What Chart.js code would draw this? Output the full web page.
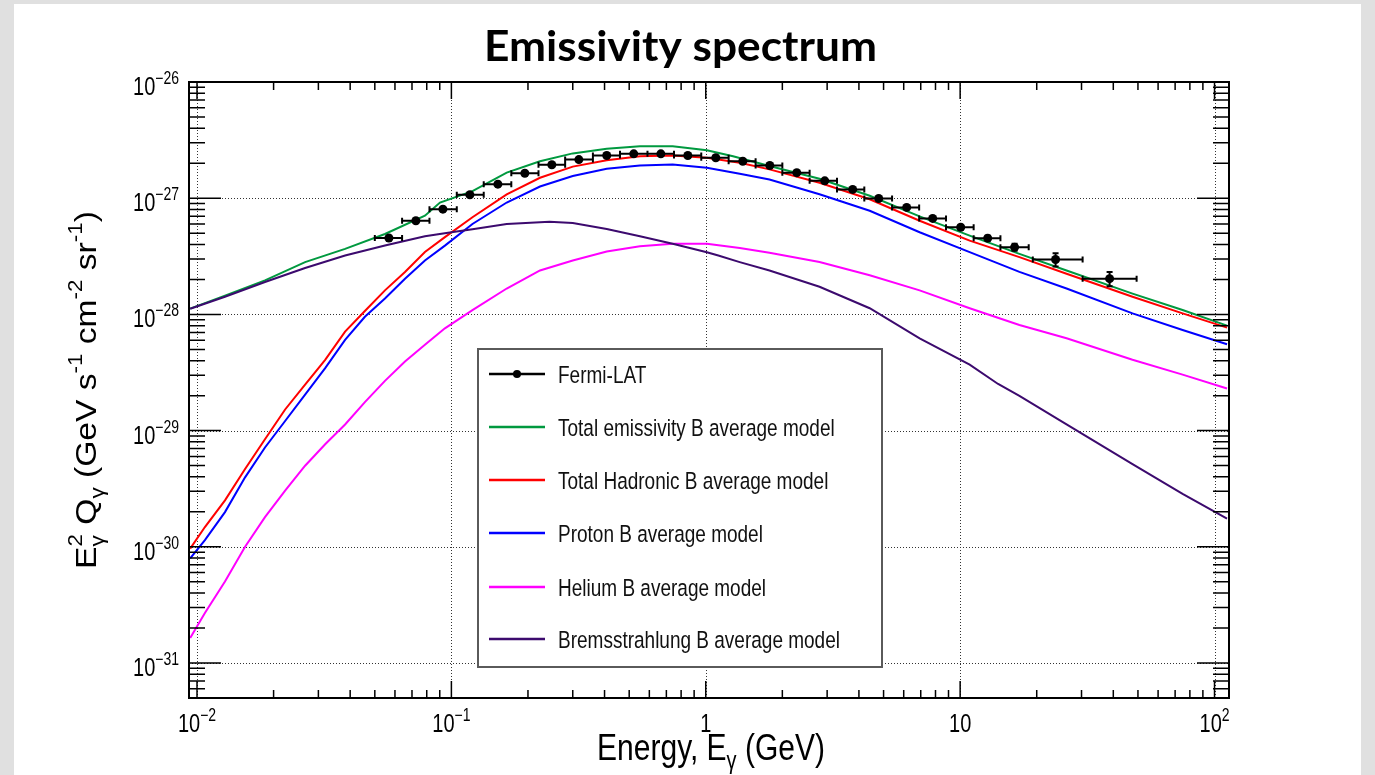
<!DOCTYPE html>
<html>
<head>
<meta charset="utf-8">
<script src="https://cdn.jsdelivr.net/npm/chart.js@4.4.0/dist/chart.umd.min.js"></script>
<style>
  html, body { margin: 0; padding: 0; background: #e0e0e0; }
  canvas { display: block; }
</style>
</head>
<body>
<canvas id="c" width="1375" height="775"></canvas>
<script>
/* ---- data (E in GeV, E^2 Q in GeV s^-1 cm^-2 sr^-1) ---- */
const TITLE = "Emissivity spectrum";
const X_TITLE = "Energy, E";
const X_MIN = 0.0093, X_MAX = 114;
const Y_MIN = 5.4e-32, Y_MAX = 1e-26;

const X_TICKS = [0.01, 0.1, 1, 10, 100];
const X_TICK_LABELS = [["10", "\u22122"], ["10", "\u22121"], ["1", ""], ["10", ""], ["10", "2"]];
const Y_TICKS = [1e-26, 1e-27, 1e-28, 1e-29, 1e-30, 1e-31];
const Y_TICK_LABELS = [["10", "\u221226"], ["10", "\u221227"], ["10", "\u221228"], ["10", "\u221229"], ["10", "\u221230"], ["10", "\u221231"]];

const SERIES_LABELS = [
  "Fermi-LAT",
  "Total emissivity B average model",
  "Total Hadronic B average model",
  "Proton B average model",
  "Helium B average model",
  "Bremsstrahlung B average model"
];

// Fermi-LAT points with x bins and relative y errors
const FERMI_E   = [0.0568, 0.0725, 0.0926, 0.1182, 0.1523, 0.1944, 0.2482, 0.317, 0.408, 0.521, 0.666, 0.850, 1.095, 1.398, 1.785, 2.279, 2.936, 3.780, 4.784, 6.163, 7.799, 10.05, 12.83, 16.37, 23.72, 38.68];
const FERMI_ELO = [0.050, 0.064, 0.082, 0.105, 0.134, 0.172, 0.22, 0.28, 0.36, 0.46, 0.59, 0.75, 0.96, 1.23, 1.57, 2.0, 2.56, 3.28, 4.2, 5.4, 6.9, 8.8, 11.3, 14.4, 19.3, 30.3];
const FERMI_EHI = [0.064, 0.082, 0.105, 0.134, 0.172, 0.22, 0.28, 0.36, 0.46, 0.59, 0.75, 0.96, 1.23, 1.57, 2.0, 2.56, 3.28, 4.2, 5.4, 6.9, 8.8, 11.3, 14.4, 18.6, 30.3, 49.4];
const FERMI_V   = [4.55e-28, 6.40e-28, 8.05e-28, 1.07e-27, 1.32e-27, 1.64e-27, 1.94e-27, 2.15e-27, 2.33e-27, 2.41e-27, 2.41e-27, 2.33e-27, 2.23e-27, 2.08e-27, 1.91e-27, 1.66e-27, 1.41e-27, 1.19e-27, 9.94e-28, 8.33e-28, 6.70e-28, 5.62e-28, 4.53e-28, 3.79e-28, 2.97e-28, 2.03e-28];
const FERMI_ERR = [0.03, 0.03, 0.03, 0.03, 0.03, 0.03, 0.03, 0.03, 0.03, 0.03, 0.03, 0.03, 0.03, 0.03, 0.03, 0.03, 0.03, 0.03, 0.03, 0.03, 0.03, 0.04, 0.05, 0.07, 0.13, 0.14];

// total emissivity (green)
const TOTAL_E = [0.0094, 0.01288, 0.0185, 0.0266, 0.0382, 0.0548, 0.0787, 0.0902, 0.121, 0.165, 0.223, 0.300, 0.408, 0.551, 0.741, 1.01, 1.28, 1.78, 2.80, 4.41, 6.93, 10.9, 17.1, 26.2, 47.6, 74.9, 112];
const TOTAL_V = [1.12e-28, 1.45e-28, 1.96e-28, 2.82e-28, 3.66e-28, 4.92e-28, 7.06e-28, 9.18e-28, 1.15e-27, 1.66e-27, 2.08e-27, 2.43e-27, 2.66e-27, 2.80e-27, 2.80e-27, 2.59e-27, 2.30e-27, 1.89e-27, 1.47e-27, 1.05e-27, 6.98e-28, 4.77e-28, 3.32e-28, 2.39e-28, 1.51e-28, 1.09e-28, 8.0e-29];

// hadronic, proton, helium share one energy grid
const HAD_E = [0.0094, 0.01074, 0.01288, 0.01545, 0.0185, 0.0222, 0.0266, 0.0319, 0.0382, 0.0457, 0.0548, 0.0657, 0.0787, 0.0943, 0.121, 0.165, 0.223, 0.300, 0.408, 0.551, 0.741, 1.01, 1.36, 1.78, 2.80, 4.41, 6.93, 10.9, 17.1, 26.2, 47.6, 74.9, 112];
const HADRONIC_V = [9.66e-31, 1.48e-30, 2.51e-30, 4.67e-30, 8.43e-30, 1.52e-29, 2.49e-29, 4.07e-29, 7.11e-29, 1.07e-28, 1.61e-28, 2.32e-28, 3.44e-28, 4.62e-28, 6.86e-28, 1.08e-27, 1.50e-27, 1.87e-27, 2.12e-27, 2.30e-27, 2.33e-27, 2.23e-27, 2.02e-27, 1.77e-27, 1.36e-27, 9.80e-28, 6.40e-28, 4.31e-28, 3.11e-28, 2.24e-28, 1.42e-28, 1.02e-28, 7.7e-29];
const PROTON_V   = [7.94e-31, 1.14e-30, 1.99e-30, 3.96e-30, 7.16e-30, 1.21e-29, 2.04e-29, 3.45e-29, 6.03e-29, 9.55e-29, 1.37e-28, 2.03e-28, 2.91e-28, 3.91e-28, 6.0e-28, 9.18e-28, 1.26e-27, 1.55e-27, 1.79e-27, 1.91e-27, 1.95e-27, 1.83e-27, 1.62e-27, 1.45e-27, 1.08e-27, 7.79e-28, 5.09e-28, 3.44e-28, 2.32e-28, 1.67e-28, 1.02e-28, 7.35e-29, 5.54e-29];
const HELIUM_V   = [1.64e-31, 2.69e-31, 5.02e-31, 1.0e-30, 1.80e-30, 3.05e-30, 4.99e-30, 7.63e-30, 1.13e-29, 1.76e-29, 2.68e-29, 3.94e-29, 5.47e-29, 7.59e-29, 1.09e-28, 1.67e-28, 2.39e-28, 2.91e-28, 3.48e-28, 3.86e-28, 4.05e-28, 4.05e-28, 3.72e-28, 3.40e-28, 2.82e-28, 2.17e-28, 1.61e-28, 1.13e-28, 8.11e-29, 6.24e-29, 4.07e-29, 3.03e-29, 2.30e-29];

// bremsstrahlung (purple)
const BREMS_E = [0.0094, 0.01288, 0.0185, 0.0266, 0.0382, 0.0548, 0.0787, 0.100, 0.121, 0.165, 0.243, 0.300, 0.408, 0.551, 0.741, 1.01, 1.12, 1.36, 1.78, 2.80, 4.41, 6.93, 10.9, 14.1, 17.1, 26.2, 47.6, 74.9, 112];
const BREMS_V = [1.12e-28, 1.42e-28, 1.90e-28, 2.51e-28, 3.21e-28, 3.91e-28, 4.70e-28, 5.10e-28, 5.40e-28, 6.0e-28, 6.27e-28, 6.11e-28, 5.43e-28, 4.71e-28, 4.05e-28, 3.43e-28, 3.21e-28, 2.82e-28, 2.39e-28, 1.73e-28, 1.13e-28, 6.23e-29, 3.69e-29, 2.52e-29, 1.99e-29, 1.13e-29, 5.15e-30, 2.86e-30, 1.75e-30];

const COLORS = ["#000000", "#00993f", "#ff0000", "#0000ff", "#ff00ff", "#3c0a6e"];

/* ---- helpers ---- */
const FONT = '"Liberation Sans", Arial, sans-serif';
const VS = 1.25;   // the plot picture is stretched vertically

const pts = (xs, ys) => xs.map((x, i) => ({ x: x, y: ys[i] }));

function decadeTicks(min, max) {
  const major = [], minor = [];
  for (let k = Math.floor(Math.log10(min)); k <= Math.ceil(Math.log10(max)); k++) {
    for (let m = 1; m <= 9; m++) {
      const v = m * Math.pow(10, k);
      if (v < min * 0.9999 || v > max * 1.0001) continue;
      (m === 1 ? major : minor).push(v);
    }
  }
  return { major, minor };
}

// parts: {t, size, dy, stack}
function drawRich(c, parts, x, y, align, sx, sy) {
  let pos = 0, prevStart = 0, prevW = 0;
  const placed = parts.map(p => {
    c.font = p.size + "px " + FONT;
    const w = c.measureText(p.t).width;
    let start;
    if (p.stack) { start = prevStart; pos = prevStart + Math.max(prevW, w); }
    else { start = pos; pos += w; }
    prevStart = start; prevW = w;
    return Object.assign({}, p, { start: start });
  });
  const x0 = align === "center" ? -pos / 2 : align === "right" ? -pos : 0;
  c.save();
  c.translate(x, y);
  c.scale(sx, sy);
  c.textAlign = "left";
  c.textBaseline = "alphabetic";
  placed.forEach(p => {
    c.font = p.size + "px " + FONT;
    c.fillText(p.t, x0 + p.start, (p.dy || 0) / sy);
  });
  c.restore();
}

/* ---- ROOT style frame, ticks, labels, legend ---- */
const rootStyle = {
  id: "rootStyle",
  beforeDraw(chart) {
    const c = chart.ctx;
    c.save();
    c.fillStyle = "#e0e0e0";
    c.fillRect(0, 0, chart.width, chart.height);
    c.fillStyle = "#ffffff";
    c.fillRect(14, 4, 1347, 771);
    // slide title
    c.fillStyle = "#000";
    c.font = "bold 40px Lato, sans-serif";
    const tw = c.measureText(TITLE).width;
    c.translate(680.5, 61);
    c.scale(393 / tw, 1.05);
    c.textAlign = "center";
    c.fillText(TITLE, 0, 0);
    c.restore();
  },
  beforeDatasetsDraw(chart) {
    const c = chart.ctx, xs = chart.scales.x, ys = chart.scales.y, a = chart.chartArea;
    c.save();
    c.strokeStyle = "#333";
    c.lineWidth = 1;
    c.setLineDash([1, 2]);
    c.beginPath();
    X_TICKS.forEach(v => { const p = Math.round(xs.getPixelForValue(v)) + 0.5; c.moveTo(p, a.top); c.lineTo(p, a.bottom); });
    Y_TICKS.forEach(v => { const p = Math.round(ys.getPixelForValue(v)) + 0.5; c.moveTo(a.left, p); c.lineTo(a.right, p); });
    c.stroke();
    c.restore();
  },
  afterDatasetsDraw(chart) {
    const c = chart.ctx, xs = chart.scales.x, ys = chart.scales.y, a = chart.chartArea;
    c.save();

    // Fermi-LAT error bars
    c.strokeStyle = "#000";
    c.lineWidth = 2;
    c.beginPath();
    FERMI_E.forEach((e, i) => {
      const px = xs.getPixelForValue(e), py = ys.getPixelForValue(FERMI_V[i]);
      const x1 = xs.getPixelForValue(FERMI_ELO[i]), x2 = xs.getPixelForValue(FERMI_EHI[i]);
      const y1 = ys.getPixelForValue(FERMI_V[i] * (1 + FERMI_ERR[i]));
      const y2 = ys.getPixelForValue(FERMI_V[i] * (1 - FERMI_ERR[i]));
      c.moveTo(x1, py); c.lineTo(x2, py);
      c.moveTo(x1, py - 3); c.lineTo(x1, py + 3);
      c.moveTo(x2, py - 3); c.lineTo(x2, py + 3);
      c.moveTo(px, y1); c.lineTo(px, y2);
      c.moveTo(px - 3, y1); c.lineTo(px + 3, y1);
      c.moveTo(px - 3, y2); c.lineTo(px + 3, y2);
    });
    c.stroke();

    // ticks
    const xt = decadeTicks(xs.min, xs.max), yt = decadeTicks(ys.min, ys.max);
    c.lineWidth = 1.5;
    c.beginPath();
    const xTick = (v, len) => {
      const p = xs.getPixelForValue(v);
      c.moveTo(p, a.bottom); c.lineTo(p, a.bottom - len);
      c.moveTo(p, a.top); c.lineTo(p, a.top + len);
    };
    const yTick = (v, len) => {
      const p = ys.getPixelForValue(v);
      c.moveTo(a.left, p); c.lineTo(a.left + len, p);
      c.moveTo(a.right, p); c.lineTo(a.right - len, p);
    };
    xt.major.forEach(v => xTick(v, 17));
    xt.minor.forEach(v => xTick(v, 8));
    yt.major.forEach(v => yTick(v, 32));
    yt.minor.forEach(v => yTick(v, 16));
    c.stroke();

    // frame
    c.lineWidth = 2;
    c.strokeRect(a.left, a.top, a.right - a.left, a.bottom - a.top);

    // tick labels
    c.fillStyle = "#000";
    X_TICKS.forEach((v, i) => {
      const [base, sup] = X_TICK_LABELS[i];
      const parts = [{ t: base, size: 20 }];
      if (sup) parts.push({ t: sup, size: 14, dy: -11 });
      drawRich(c, parts, xs.getPixelForValue(v), 732, "center", 1, VS);
    });
    Y_TICKS.forEach((v, i) => {
      const [base, sup] = Y_TICK_LABELS[i];
      drawRich(c, [{ t: base, size: 20 }, { t: sup, size: 14, dy: -11 }], 179, ys.getPixelForValue(v) + 13, "right", 1, VS);
    });

    // axis titles
    drawRich(c, [{ t: X_TITLE, size: 30 }, { t: "\u03b3", size: 20, dy: 9 }, { t: " (GeV)", size: 30 }], 711, 760, "center", 1, VS);
    c.save();
    c.translate(96, 390);
    c.rotate(-Math.PI / 2);
    drawRich(c, [
      { t: "E", size: 30 }, { t: "2", size: 20, dy: -14 }, { t: "\u03b3", size: 20, dy: 8, stack: true },
      { t: " Q", size: 30 }, { t: "\u03b3", size: 20, dy: 8 },
      { t: " (GeV s", size: 30 }, { t: "-1", size: 20, dy: -14 },
      { t: " cm", size: 30 }, { t: "-2", size: 20, dy: -14 },
      { t: " sr", size: 30 }, { t: "-1", size: 20, dy: -14 }, { t: ")", size: 30 }
    ], 0, 0, "center", 1.12, 1);
    c.restore();

    // legend
    const rows = [374, 427, 480, 533, 587, 639];
    c.fillStyle = "#ffffff";
    c.fillRect(478, 349, 404, 318);
    c.strokeStyle = "#5a5a5a";
    c.lineWidth = 2;
    c.strokeRect(478, 349, 404, 318);
    chart.data.datasets.forEach((ds, i) => {
      const y = rows[i];
      c.strokeStyle = ds.borderColor;
      c.lineWidth = 2.5;
      c.beginPath(); c.moveTo(489, y); c.lineTo(545, y); c.stroke();
      if (ds.showLine === false) {
        c.fillStyle = ds.borderColor;
        c.beginPath(); c.arc(517, y, 4, 0, Math.PI * 2); c.fill();
      }
      c.fillStyle = "#111";
      drawRich(c, [{ t: ds.label, size: 19 }], 558, y + 9, "left", 1, VS);
    });
    c.restore();
  }
};

/* ---- chart ---- */
const lineSet = (label, data, color, order) => ({
  label: label, data: data, borderColor: color, backgroundColor: color,
  borderWidth: 2, pointRadius: 0, fill: false, tension: 0, order: order
});

new Chart(document.getElementById("c").getContext("2d"), {
  type: "line",
  data: {
    datasets: [
      { label: SERIES_LABELS[0], data: pts(FERMI_E, FERMI_V), showLine: false,
        borderColor: COLORS[0], backgroundColor: COLORS[0], pointRadius: 4.5, pointBorderWidth: 0, order: 0 },
      lineSet(SERIES_LABELS[1], pts(TOTAL_E, TOTAL_V), COLORS[1], 5),
      lineSet(SERIES_LABELS[2], pts(HAD_E, HADRONIC_V), COLORS[2], 4),
      lineSet(SERIES_LABELS[3], pts(HAD_E, PROTON_V), COLORS[3], 3),
      lineSet(SERIES_LABELS[4], pts(HAD_E, HELIUM_V), COLORS[4], 2),
      lineSet(SERIES_LABELS[5], pts(BREMS_E, BREMS_V), COLORS[5], 1)
    ]
  },
  options: {
    responsive: false,
    animation: false,
    layout: { padding: { left: 189, top: 82, right: 146, bottom: 77 } },
    plugins: { legend: { display: false }, tooltip: { enabled: false }, title: { display: false } },
    scales: {
      x: { type: "logarithmic", min: X_MIN, max: X_MAX, display: false },
      y: { type: "logarithmic", min: Y_MIN, max: Y_MAX, display: false }
    }
  },
  plugins: [rootStyle]
});
</script>
</body>
</html>
